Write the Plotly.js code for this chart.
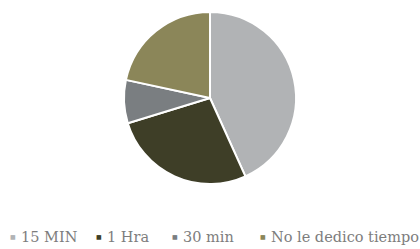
<!DOCTYPE html>
<html><head><meta charset="utf-8">
<script src="https://cdn.plot.ly/plotly-3.0.1.min.js"></script>
<style>html,body{margin:0;padding:0;background:#fff}#c{width:420px;height:249px}</style>
</head><body><div id="c"></div>
<script>
const categories = ["15 MIN", "1 Hra", "30 min", "No le dedico tiempo"];
const values = [16, 10, 3, 8];
const colors = ["#b1b3b5", "#3e3e27", "#7a7e81", "#8b8659"];

const markerX = [13, 99, 175, 263];
const textX = [19, 105, 181, 269];
const legendY = 1 - 236.5 / 249;
const annotations = [];
categories.forEach((c, i) => {
  annotations.push({
    xref: "paper", yref: "paper",
    x: markerX[i] / 420, y: legendY,
    xanchor: "center", yanchor: "middle",
    showarrow: false,
    text: "■",
    font: {family: "DejaVu Sans", size: 6, color: colors[i]}
  });
  annotations.push({
    xref: "paper", yref: "paper",
    x: textX[i] / 420, y: legendY,
    xanchor: "left", yanchor: "middle",
    showarrow: false,
    text: c,
    font: {family: "DejaVu Serif", size: 14.5, color: "#7d7d7d"}
  });
});

const data = [{
  type: "pie",
  labels: categories,
  values: values,
  sort: false,
  direction: "clockwise",
  rotation: 0,
  textinfo: "none",
  hoverinfo: "label+value",
  marker: {colors: colors, line: {color: "#ffffff", width: 2}},
  domain: {x: [124 / 420, 296 / 420], y: [1 - 184 / 249, 1 - 12 / 249]}
}];

const layout = {
  width: 420, height: 249,
  margin: {l: 0, r: 0, t: 0, b: 0},
  paper_bgcolor: "#ffffff",
  showlegend: false,
  annotations: annotations
};

Plotly.newPlot("c", data, layout, {displayModeBar: false, staticPlot: true});
</script></body></html>
